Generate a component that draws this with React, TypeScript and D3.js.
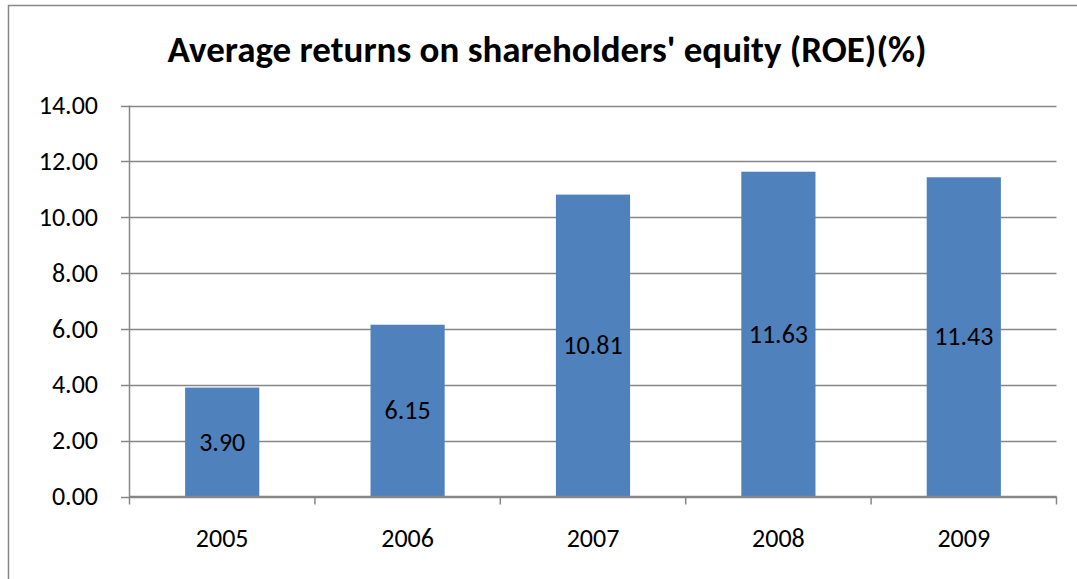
import React from "react";
import * as d3 from "d3";

const categories = ["2005", "2006", "2007", "2008", "2009"];
const values = [3.9, 6.15, 10.81, 11.63, 11.43];
const yTicks = [0, 2, 4, 6, 8, 10, 12, 14];
const title = "Average returns on shareholders' equity (ROE)(%)";

const W = 1077;
const H = 579;
const FONT = "Carlito, Calibri, Lato, 'Open Sans', sans-serif";
const GRID = "#878787";

export default function App() {
  const left = 129.5;
  const right = 1056.5;
  const top = 105.5;
  const bottom = 496.5;

  const x = d3.scaleBand<string>().domain(categories).range([left, right]).paddingInner(0.6).paddingOuter(0.3);
  const xEdge = d3.scaleBand<string>().domain(categories).range([left, right]);
  const y = d3.scaleLinear().domain([0, 14]).range([bottom, top]);

  return (
    <svg width={W} height={H} style={{ position: "absolute", left: 0, top: 0, background: "#fff" }}>
      <rect x={8.5} y={5.5} width={1100} height={700} fill="#fff" stroke={GRID} strokeWidth={1.5} />
      <text x={547} y={62} textAnchor="middle" fontFamily={FONT} fontWeight="bold" fontSize={37} fill="#000">
        {title}
      </text>
      {yTicks.map((t) => (
        <g key={t}>
          <line x1={121} x2={right} y1={Math.round(y(t)) + 0.5} y2={Math.round(y(t)) + 0.5} stroke={GRID} strokeWidth={1.5} />
          <text x={98} y={y(t)} dy="0.33em" textAnchor="end" fontFamily={FONT} fontSize={26} fill="#000">
            {d3.format(".2f")(t)}
          </text>
        </g>
      ))}
      {categories.map((c, i) => (
        <rect key={c} x={x(c)} y={y(values[i])} width={x.bandwidth()} height={y(0) - y(values[i])} fill="#4F81BD" />
      ))}
      <line x1={left} x2={left} y1={top} y2={bottom + 8} stroke={GRID} strokeWidth={1.5} />
      <line x1={left} x2={right} y1={bottom} y2={bottom} stroke={GRID} strokeWidth={1.5} />
      {categories.map((c) => (
        <line key={"t" + c} x1={(xEdge(c) as number) + xEdge.bandwidth()} x2={(xEdge(c) as number) + xEdge.bandwidth()} y1={bottom} y2={bottom + 8} stroke={GRID} strokeWidth={1.5} />
      ))}
      {categories.map((c) => (
        <text key={"l" + c} x={(x(c) as number) + x.bandwidth() / 2} y={547} textAnchor="middle" fontFamily={FONT} fontSize={26} fill="#000">
          {c}
        </text>
      ))}
      {categories.map((c, i) => (
        <text key={"v" + c} x={(x(c) as number) + x.bandwidth() / 2} y={(y(values[i]) + y(0)) / 2} dy="0.33em" textAnchor="middle" fontFamily={FONT} fontSize={26} fill="#000">
          {d3.format(".2f")(values[i])}
        </text>
      ))}
    </svg>
  );
}
